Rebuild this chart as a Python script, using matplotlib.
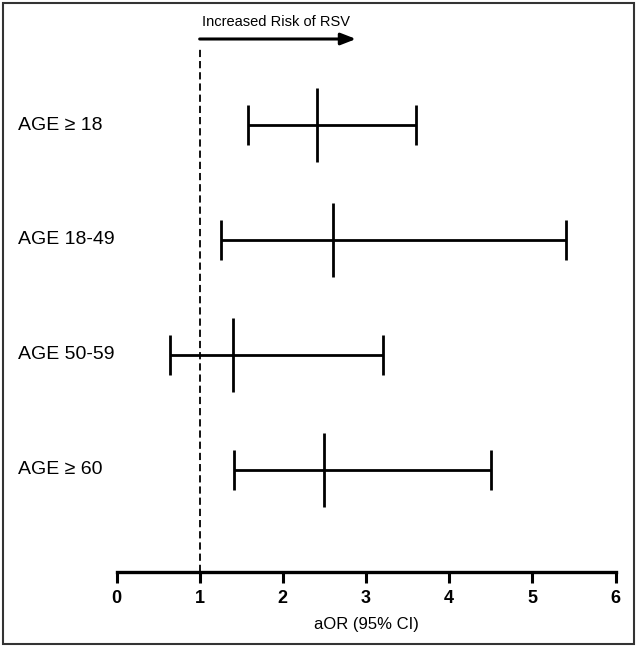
import matplotlib
matplotlib.use("Agg")
import matplotlib.pyplot as plt
import matplotlib.transforms as mtransforms
from matplotlib.patches import Rectangle

# Data
labels = ["AGE \u2265 18", "AGE 18-49", "AGE 50-59", "AGE \u2265 60"]
aor = [2.41, 2.60, 1.40, 2.50]
ci_low = [1.58, 1.26, 0.64, 1.41]
ci_high = [3.60, 5.40, 3.20, 4.50]
xticks = [0, 1, 2, 3, 4, 5, 6]

W, H = 638, 650
fig = plt.figure(figsize=(W / 100, H / 100), dpi=100)
ax = fig.add_axes([116.5 / W, 1 - 572 / H, (615.5 - 116.5) / W, (572 - 47) / H])

n = len(aor)
ypos = [n - 1 - i for i in range(n)]
lw = 2.0
for y, c, lo, hi in zip(ypos, aor, ci_low, ci_high):
    ax.plot([lo, hi], [y, y], color="black", lw=lw, solid_capstyle="butt")
    ax.plot([lo, lo], [y - 0.175, y + 0.175], color="black", lw=lw, solid_capstyle="butt")
    ax.plot([hi, hi], [y - 0.175, y + 0.175], color="black", lw=lw, solid_capstyle="butt")
    ax.plot([c, c], [y - 0.32, y + 0.32], color="black", lw=lw, solid_capstyle="butt")

ax.axvline(1, color="black", lw=1.3, linestyle=(0, (4, 2.2)), ymin=0, ymax=1)

ax.set_xlim(0, 6)
ax.set_ylim(-0.89, n - 1 + 0.68)
ax.set_xticks(xticks)
ax.set_xticklabels([str(t) for t in xticks], fontsize=13, family="Liberation Sans",
                   fontweight="bold")
ax.tick_params(axis="x", length=8, width=2.2, pad=5)
ax.set_yticks([])
for s in ["top", "right", "left"]:
    ax.spines[s].set_visible(False)
ax.spines["bottom"].set_linewidth(2.4)
fig.text((116.5 + 615.5) / 2 / W, 1 - 624 / H, "aOR (95% CI)", fontsize=12,
         family="Liberation Sans", ha="center", va="center")

# Row labels
trans = mtransforms.blended_transform_factory(fig.transFigure, ax.transData)
for y, lab in zip(ypos, labels):
    ax.text(18 / W, y, lab, transform=trans, fontsize=14, family="Liberation Sans",
            va="center", ha="left")

# Arrow and annotation above the plot
tr2 = mtransforms.blended_transform_factory(ax.transData, fig.transFigure)
ax.annotate("", xy=(2.88, 1 - 39 / H), xytext=(1.0, 1 - 39 / H),
            xycoords=tr2, textcoords=tr2,
            arrowprops=dict(arrowstyle="-|>,head_length=0.9,head_width=0.35",
                            color="black", lw=2.2, shrinkA=0, shrinkB=0),
            annotation_clip=False)
ax.text(1.03, 1 - 22 / H, "Increased Risk of RSV", transform=tr2, fontsize=10.5,
        family="Liberation Sans", va="center", ha="left")

# Figure border
fig.patches.append(Rectangle((3 / W, 6 / H), 631 / W, 641 / H, transform=fig.transFigure,
                             fill=False, edgecolor="#333333", lw=1.5))

fig.savefig("out.png", dpi=100)
